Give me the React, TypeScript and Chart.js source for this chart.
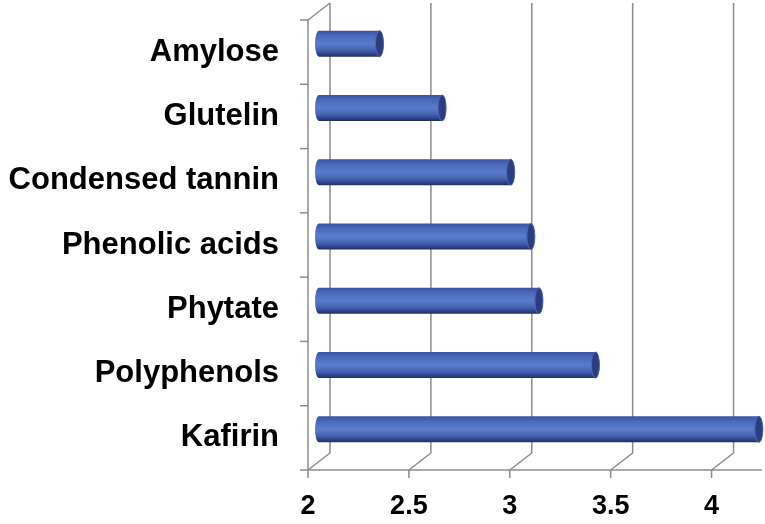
import React, { useEffect, useRef } from "react";
import { Chart, registerables } from "chart.js";

Chart.register(...registerables);

const categories = [
  "Amylose",
  "Glutelin",
  "Condensed tannin",
  "Phenolic acids",
  "Phytate",
  "Polyphenols",
  "Kafirin",
];
const values = [2.3, 2.61, 2.95, 3.05, 3.09, 3.37, 4.18];
const xMin = 2;
const xMax = 4.25;
const xStep = 0.5;

const DX = 22; // depth offset x (back wall)
const DY = -17; // depth offset y

const FONT = "'Liberation Sans', Arial, Helvetica, sans-serif";

const depthPlugin = {
  id: "depth3d",
  beforeDatasetsDraw(chart: any) {
    const { ctx, chartArea, scales } = chart;
    const xs = scales.x;
    const ys = scales.y;
    const { left, right, top, bottom } = chartArea;
    ctx.save();
    ctx.strokeStyle = "#8c8c8c";
    ctx.lineWidth = 1.5;
    ctx.lineCap = "butt";
    xs.ticks.forEach((t: any) => {
      const px = xs.getPixelForValue(t.value);
      ctx.beginPath();
      ctx.moveTo(px, bottom);
      ctx.lineTo(px + DX, bottom + DY);
      ctx.lineTo(px + DX, top + DY);
      ctx.stroke();
      ctx.beginPath();
      ctx.moveTo(px, bottom);
      ctx.lineTo(px, bottom + 8);
      ctx.stroke();
    });
    ctx.beginPath();
    ctx.moveTo(left, bottom);
    ctx.lineTo(right, bottom);
    ctx.stroke();
    ctx.beginPath();
    ctx.moveTo(left + DX, top + DY);
    ctx.lineTo(left, top);
    ctx.lineTo(left, bottom);
    ctx.stroke();
    const n = ys.ticks.length;
    const step = (bottom - top) / n;
    for (let i = 0; i <= n; i++) {
      const y = top + i * step;
      ctx.beginPath();
      ctx.moveTo(left - 8, y);
      ctx.lineTo(left, y);
      ctx.stroke();
    }
    ctx.restore();
  },
  afterDatasetsDraw(chart: any) {
    const { ctx, scales } = chart;
    const xs = scales.x;
    const meta = chart.getDatasetMeta(0);
    const ox = DX / 2;
    const oy = DY / 2;
    const basePx = xs.getPixelForValue(xs.min) + ox;
    ctx.save();
    meta.data.forEach((el: any) => {
      const h = el.height;
      const cy = el.y + oy;
      const x0 = basePx;
      const x1 = el.x + ox;
      const rx = 4;
      const ry = h / 2;
      const yT = cy - ry;
      const yB = cy + ry;
      const g = ctx.createLinearGradient(0, yT, 0, yB);
      g.addColorStop(0, "#3a53a0");
      g.addColorStop(0.2, "#4a69b9");
      g.addColorStop(0.5, "#5a7dcb");
      g.addColorStop(0.75, "#4463b1");
      g.addColorStop(1, "#1f2e66");
      ctx.beginPath();
      ctx.ellipse(x0, cy, rx, ry, 0, Math.PI / 2, (3 * Math.PI) / 2, false);
      ctx.lineTo(x1, yT);
      ctx.ellipse(x1, cy, rx, ry, 0, -Math.PI / 2, Math.PI / 2, false);
      ctx.closePath();
      ctx.fillStyle = g;
      ctx.fill();
      ctx.beginPath();
      ctx.ellipse(x1, cy, rx, ry, 0, 0, Math.PI * 2);
      ctx.fillStyle = "#2b3d7e";
      ctx.fill();
      ctx.strokeStyle = "#4b66b3";
      ctx.lineWidth = 1;
      ctx.stroke();
    });
    ctx.restore();
  },
};

export default function App() {
  const ref = useRef<HTMLCanvasElement | null>(null);
  useEffect(() => {
    if (!ref.current) return;
    const chart = new Chart(ref.current, {
      type: "bar",
      data: {
        labels: categories,
        datasets: [
          {
            data: values,
            backgroundColor: "rgba(0,0,0,0)",
            borderWidth: 0,
            barThickness: 26,
          },
        ],
      },
      options: {
        indexAxis: "y",
        responsive: false,
        maintainAspectRatio: false,
        animation: false,
        devicePixelRatio: 1,
        layout: { padding: { top: 20, right: 3, left: 0, bottom: 0 } },
        plugins: {
          legend: { display: false },
          tooltip: { enabled: false },
        },
        scales: {
          x: {
            type: "linear",
            min: xMin,
            max: xMax,
            grid: { display: false, drawTicks: false },
            border: { display: false },
            ticks: {
              stepSize: xStep,
              includeBounds: false,
              color: "#000",
              padding: 20,
              font: { family: FONT, size: 27, weight: "bold" },
              callback: (v: any) => String(Number(v)),
            },
            afterFit: (s: any) => {
              s.height = 54;
              s.paddingLeft = 0;
              s.paddingRight = 0;
            },
          },
          y: {
            type: "category",
            grid: { display: false, drawTicks: false },
            border: { display: false },
            ticks: {
              color: "#000",
              padding: 29,
              font: { family: FONT, size: 31, weight: "bold" },
            },
            afterFit: (s: any) => {
              s.width = 308;
              s.paddingTop = 0;
              s.paddingBottom = 0;
            },
          },
        },
      },
      plugins: [depthPlugin],
    } as any);
    return () => chart.destroy();
  }, []);
  return (
    <div style={{ position: "fixed", left: 0, top: 0, width: 765, height: 524, background: "#fff" }}>
      <canvas ref={ref} width={765} height={524} />
    </div>
  );
}
